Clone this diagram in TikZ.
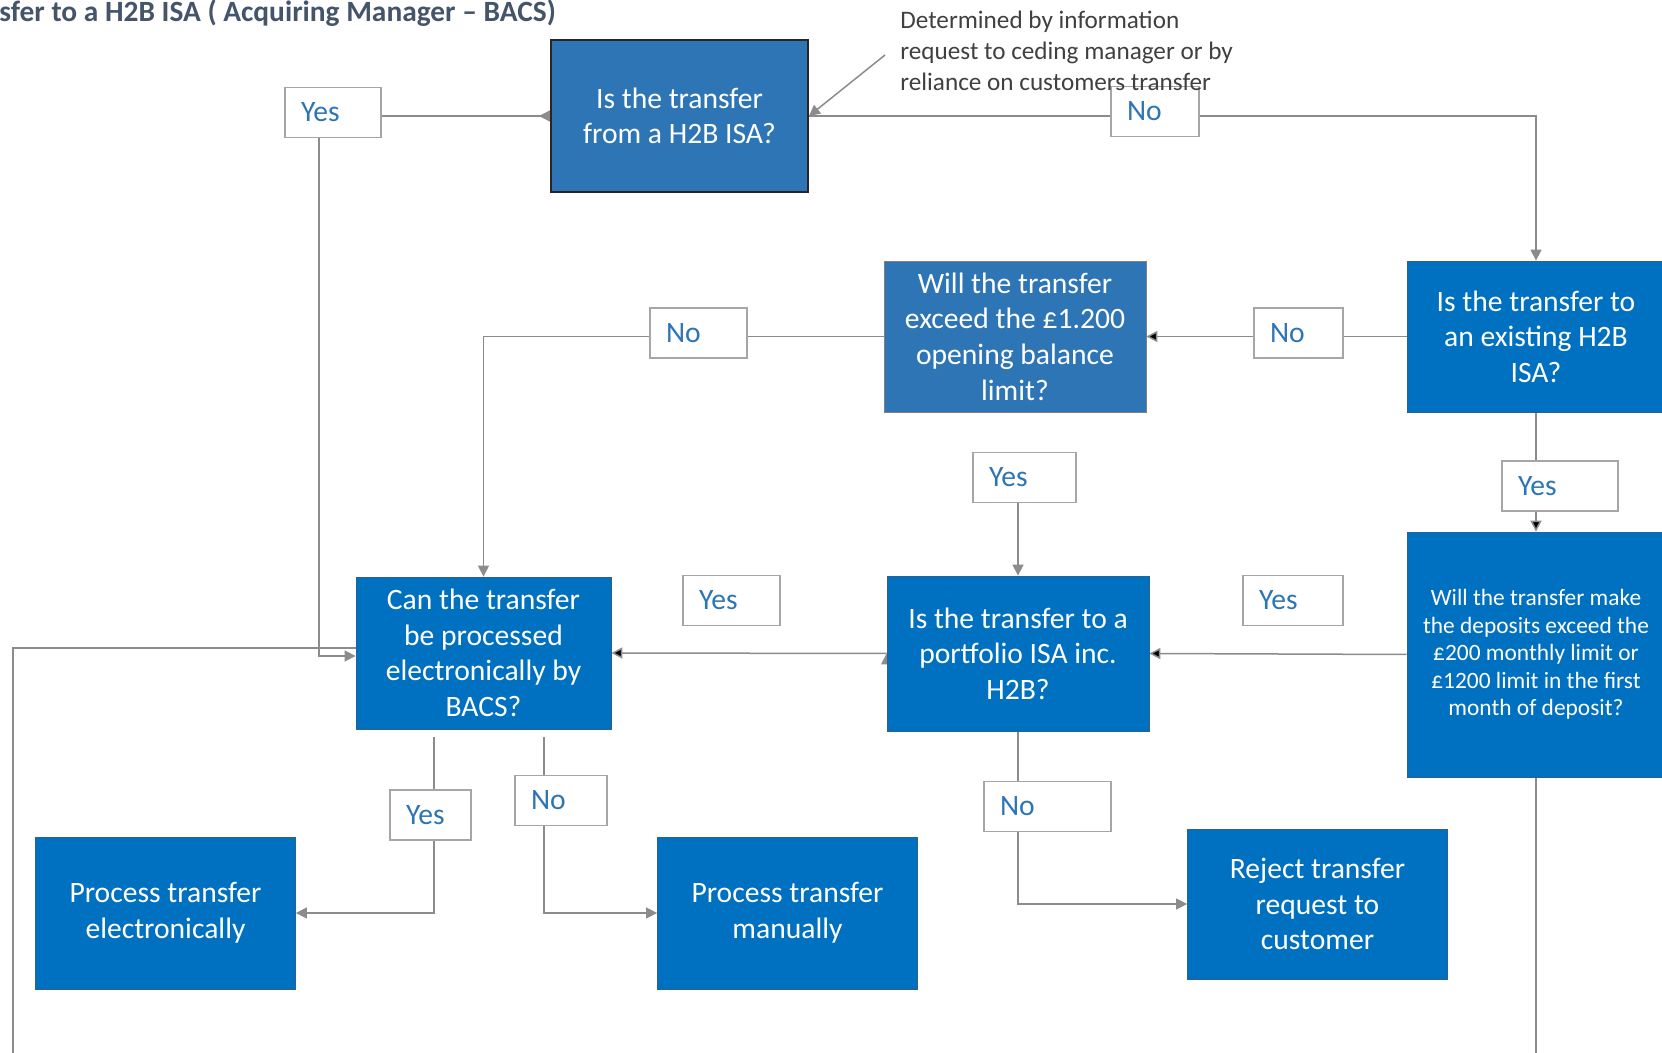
\documentclass[tikz,border=0pt]{standalone}
\usepackage{fontspec}
\setmainfont{Carlito}
\usetikzlibrary{arrows.meta,calc,backgrounds}
\definecolor{boxblue}{HTML}{0070C0}
\definecolor{paleblue}{HTML}{2E75B6}
\definecolor{boxline}{HTML}{2F5F8F}
\definecolor{tagblue}{HTML}{2E75B6}
\definecolor{tagline}{HTML}{A6A6A6}
\definecolor{linkgray}{HTML}{8C8C8C}
\definecolor{notegray}{HTML}{404040}
\definecolor{titlegray}{HTML}{44546A}

\begin{document}
\begin{tikzpicture}[x=0.5pt, y=-0.5pt,
  qbox/.style={draw=boxline, line width=0.4pt, fill=boxblue, text=white, align=center,
    minimum width=130pt, minimum height=76pt, font=\fontsize{14.8}{17.8}\selectfont},
  tag/.style={draw=tagline, line width=0.6pt, fill=white, text=tagblue, align=left,
    text width=#1, inner xsep=8pt, minimum height=25pt, font=\fontsize{14.8}{16}\selectfont},
  link/.style={draw=linkgray, line width=0.75pt},
  arr/.style={link, -{Triangle[length=5.5pt, width=5.5pt]}}]
  \useasboundingbox (0,0) rectangle (1662,1053);

  \node[anchor=west, inner sep=0pt, text=titlegray, font=\fontsize{14.7}{17}\selectfont\bfseries]
    (title) at (-1,13) {sfer to a H2B ISA ( Acquiring Manager -- BACS)};

  % questions
  \node[qbox, fill=paleblue, draw=black!85, line width=1pt, minimum width=128.5pt] (q1) at (679.5,116) {Is the transfer\\from a H2B ISA?};
  \node[qbox, minimum width=129pt, minimum height=75.5pt] (q2) at (1536,336.5) {Is the transfer to\\an existing H2B\\ISA?};
  \node[qbox, fill=paleblue, draw=gray, minimum width=131pt, minimum height=75.5pt] (q3) at (1015,336.5) {Will the transfer\\exceed the £1.200\\opening balance\\limit?};
  \node[qbox, minimum width=129pt, minimum height=122.5pt, font=\fontsize{11.7}{13.8}\selectfont] (q4) at (1536,654.5) {Will the transfer make\\the deposits exceed the\\£200 monthly limit or\\£1200 limit in the first\\month of deposit?};
  \node[qbox, minimum width=131pt, minimum height=77.5pt] (q5) at (1018,653.5) {Is the transfer to a\\portfolio ISA inc.\\H2B?};
  \node[qbox, minimum width=127.5pt] (q6) at (483.5,653) {Can the transfer\\be processed\\electronically by\\BACS?};

  % outcomes
  \node[qbox] (p1) at (165.5,913) {Process transfer\\electronically};
  \node[qbox] (p2) at (787.5,913) {Process transfer\\manually};
  \node[qbox, minimum height=75pt] (rej) at (1317.5,904) {Reject transfer\\request to\\customer};

  % yes / no tags
  \node[tag=32pt] (yes1) at (333,112.5) {Yes};
  \node[tag=28pt] (no1) at (1155,111.5) {No};
  \node[tag=28.5pt] (no2) at (1298.5,333) {No};
  \node[tag=32.5pt] (no3) at (698.5,333) {No};
  \node[tag=35.5pt] (yes2) at (1024.5,477.5) {Yes};
  \node[tag=42pt] (yes3) at (1560,486) {Yes};
  \node[tag=34pt] (yes4) at (1293,600.5) {Yes};
  \node[tag=32.5pt] (yes5) at (731.5,600.5) {Yes};
  \node[tag=24.5pt] (yes6) at (430.5,815) {Yes};
  \node[tag=30pt] (no4) at (561,800.5) {No};
  \node[tag=47.5pt] (no5) at (1047.5,806.5) {No};

  \node[anchor=west, align=left, inner sep=0pt, text=notegray, font=\fontsize{12.6}{15.4}\selectfont]
    (note) at (900,51) {Determined by information\\request to ceding manager or by\\reliance on customers transfer};

  \coordinate (c1) at (319,656);
  \coordinate (c2) at (13,1060);
  \coordinate (c3) at (1536,1060);
  \coordinate (c5) at (885,55);
  \coordinate (c6) at (1018,502);

  \begin{scope}[on background layer]
    \draw[arr] (c5) -- (q1.east);
    \draw[arr] (q1.east) -| (q2.north);
    \draw[link, {Triangle[reversed, length=5.5pt, width=5.5pt]}-{Triangle[length=5.5pt, width=5.5pt]}]
      (q1.west) -| (c1) -- (c1 -| q6.west);
    \draw[link] (c2) |- ($(q6.west)+(0,-5)$);
    \path[arr]
      (q2.west) edge (q3.east)
      (q2.south) edge (q4.north)
      (q4.west) edge (q5.east)
      (q5.west) edge (q6.east);
    \draw[arr] (c6) -- (q5.north);
    \draw[link] (q4.south) -- (c3);
    \draw[arr] (q3.west) -| (q6.north);
    \draw[arr] (q5.south) |- (rej.west);
    \draw[arr] ($(q6.south)+(-49.5,8)$) |- (p1.east);
    \draw[arr] ($(q6.south)+(60.5,8)$) |- (p2.west);
  \end{scope}
\end{tikzpicture}
\end{document}
